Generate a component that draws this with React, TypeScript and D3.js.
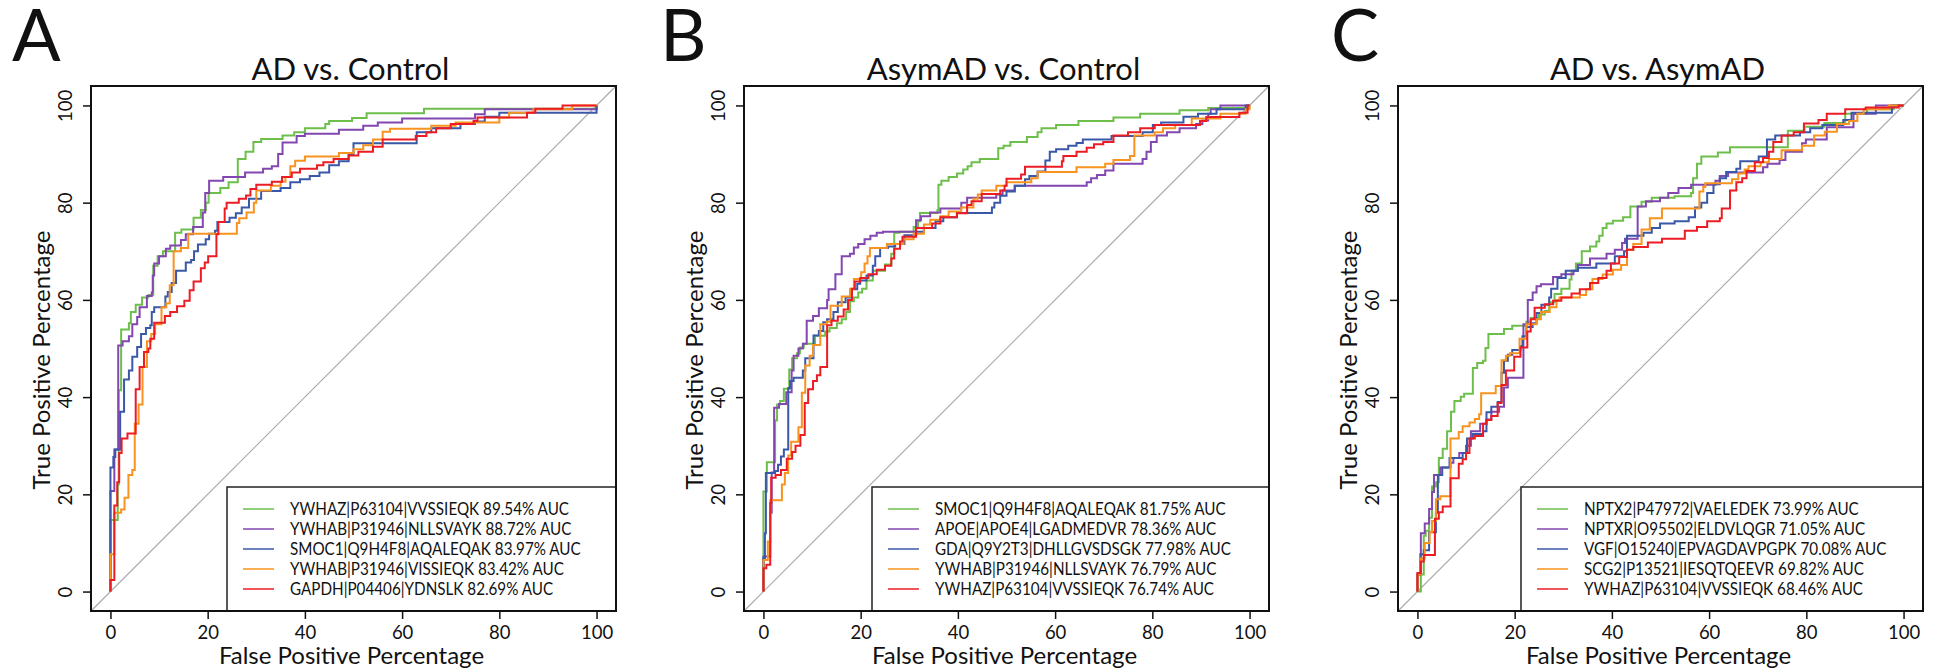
import React, { useEffect, useRef } from "react";
import * as d3 from "d3";

type Pt = [number, number];

const panelLetters = ["A", "B", "C"];
const panelTitles = ["AD vs. Control", "AsymAD vs. Control", "AD vs. AsymAD"];
const seriesColors = ["#6dbf4b", "#8247b0", "#3a58a8", "#f7931e", "#ec1c24"];
const axisTicks = [0, 20, 40, 60, 80, 100];

const legendA = [
  "YWHAZ|P63104|VVSSIEQK 89.54% AUC",
  "YWHAB|P31946|NLLSVAYK 88.72% AUC",
  "SMOC1|Q9H4F8|AQALEQAK 83.97% AUC",
  "YWHAB|P31946|VISSIEQK 83.42% AUC",
  "GAPDH|P04406|YDNSLK 82.69% AUC",
];
const legendB = [
  "SMOC1|Q9H4F8|AQALEQAK 81.75% AUC",
  "APOE|APOE4|LGADMEDVR 78.36% AUC",
  "GDA|Q9Y2T3|DHLLGVSDSGK 77.98% AUC",
  "YWHAB|P31946|NLLSVAYK 76.79% AUC",
  "YWHAZ|P63104|VVSSIEQK 76.74% AUC",
];
const legendC = [
  "NPTX2|P47972|VAELEDEK 73.99% AUC",
  "NPTXR|O95502|ELDVLQGR 71.05% AUC",
  "VGF|O15240|EPVAGDAVPGPK 70.08% AUC",
  "SCG2|P13521|IESQTQEEVR 69.82% AUC",
  "YWHAZ|P63104|VVSSIEQK 68.46% AUC",
];

// ROC steps: [false positive %, true positive % reached at that FPR]
const rocA1: Pt[] = [[0,0],[0,14.7],[1.5,22],[1.7,41.4],[2.2,53.9],[3.8,55.2],[4.2,57.5],[5.2,59],[6.5,60.5],[7.8,61],[8.8,67],[9.7,69],[10.8,70],[13.3,73.8],[14.6,74.5],[17.1,76.9],[18.6,78.5],[19.6,80],[20.2,82],[22.6,83],[24.3,84.2],[26.2,89],[27.8,90.5],[29.4,92.5],[31,93.1],[35.4,93.8],[37.8,94.5],[40,95.3],[44.2,96.2],[45,96.8],[49.7,97.4],[52.7,98.4],[64.5,99.3],[100,100]];
const rocA2: Pt[] = [[0,0],[0,20.7],[0.8,29.2],[1.6,50.6],[2.5,51.5],[3.8,52.5],[4.5,55],[5.5,56.5],[6,58.5],[7.5,60.8],[8.5,61.5],[8.7,65],[9,67.5],[10,69],[11.4,70.5],[12.3,71.2],[14.5,72.3],[15.5,73.5],[17,75],[19,78],[19.5,82],[20.3,84.5],[23.2,85.3],[27.7,86.2],[31.4,87],[33.2,87.5],[34.5,90],[35.4,92.4],[38.3,93.7],[40,94.2],[47,95],[52,95.8],[55,96.5],[60,97.3],[75,98.2],[77,99.2],[100,100]];
const rocA3: Pt[] = [[0,0],[0,25.5],[0.6,27.7],[1,29.2],[2,37],[2.8,43.6],[3.8,45.5],[4.5,48.3],[5.5,50.3],[6.3,53],[7.3,54.2],[8.2,54.8],[8.5,57.5],[9,58.5],[11.3,60.7],[11.8,61.6],[12.6,63.5],[13.5,66],[15.5,67.7],[16.6,68.2],[17.2,70],[18,71.4],[19.6,72.5],[20.3,73.6],[21.5,74.2],[22,76],[24.5,76.9],[25.8,77.8],[27,79],[28.5,80.8],[31,82.4],[35,83],[37,84.2],[39,84.8],[41,85.5],[43,86.2],[45,87.7],[47,88.5],[49,90],[50,92.2],[63,94.5],[66,95.3],[72,96.2],[75,96.7],[77,97.7],[80,98.5],[100,100]];
const rocA4: Pt[] = [[0,0],[0,7.7],[0.8,16.2],[2.2,16.9],[2.9,19.3],[3.7,24],[4.5,25],[5,34.5],[5.8,38.5],[6.6,46.2],[7.5,51.5],[8.4,53],[9.2,55],[10.5,58.5],[11.5,59.3],[12.2,63],[13,70],[14.5,70.7],[16,73.6],[26,75.8],[26.5,76.8],[28,78],[29.5,80],[30,82.5],[33,83.5],[35,84.3],[36,85.3],[37,87.5],[38,88.6],[40,89.5],[47,90.2],[50,91],[52,91.8],[54,93],[56,94.6],[57.5,95.2],[66,95.8],[71,96.5],[80,97.5],[82,98.5],[87,99.2],[95,100],[100,100]];
const rocA5: Pt[] = [[0,0],[0,2.4],[0.8,17.7],[1.4,22.5],[1.8,28.5],[2.3,31.5],[3.5,32.5],[5.2,41.6],[6,46.2],[6.9,49.3],[7.8,50],[8.2,52],[9,55.3],[11.2,56.7],[12.3,57.5],[13.7,58.7],[15.2,59.8],[16.3,62],[17.1,63.8],[18.6,66.5],[19.4,67.7],[20.1,69],[21.8,73.5],[22.2,76],[23.5,78.8],[23.9,80],[26.4,80.8],[27.9,81.5],[28.8,82.8],[30,83.7],[33.2,84.3],[35.3,85.3],[37.3,86.2],[39,87],[42.5,87.7],[43.8,88.3],[45.9,89],[49,89.7],[51,90.5],[54,91.5],[56,93],[62.8,93.7],[65,94.5],[67,95.3],[70,96.2],[74.7,96.8],[75.5,97.5],[85.7,98.5],[87.4,99.3],[93,100],[100,100]];

const rocB1: Pt[] = [[0,0],[0,20.6],[0.7,26.6],[2.4,35.2],[2.8,38.5],[3.4,39.2],[4.2,41.7],[5.3,45.7],[5.9,48],[6.9,49],[7.5,50.2],[8.3,51],[10.6,52.6],[12.7,53.5],[13.6,54.2],[15.1,55.2],[16.1,56],[17,57.5],[17.8,59.7],[18.6,60.5],[19.5,61.5],[20.3,62.3],[21.2,64],[22.5,66],[25,67.3],[26.3,69.5],[26.9,73.8],[28,74],[30.9,75],[31.8,76.2],[32.2,77.9],[35.8,78.5],[36,83.7],[36.6,84.5],[38.1,85.3],[39.8,86],[41.1,86.8],[42,87.5],[42.8,88.3],[44.5,89],[48.3,91.2],[49.4,91.7],[50.8,92.5],[54.2,93.5],[56.4,94.5],[57.2,95.3],[60.2,96],[64.8,96.8],[72,97.5],[77.5,98.3],[85.6,99],[91.5,99.5],[100,100]];
const rocB2: Pt[] = [[0,0],[0,7.2],[1.4,16.2],[1.7,24.5],[2.2,37.8],[3.2,38.6],[4.7,41],[5.8,45.5],[6.2,48.5],[7.2,50],[8.1,51],[8.9,55.7],[10.2,56.7],[11.4,58.3],[13.1,60],[13.4,62.2],[14.8,65.3],[16.1,69],[17.8,69.5],[18.6,70.8],[19.5,71.5],[20.8,72.5],[22,73.2],[23.3,73.8],[24.6,74],[31.4,76.4],[32.4,77.2],[34.3,78],[36.4,78.8],[40.7,80],[41.9,81],[47.9,81.7],[49.2,82.5],[51.7,83.5],[66.5,84.2],[67.4,85],[68.6,85.7],[70.3,86.6],[72,88],[78,89],[78.8,90.5],[79.7,92.5],[80.9,93.8],[83,94.5],[85.6,95.3],[89,96.2],[90.3,96.9],[91.5,98.3],[92,99.2],[94,100],[100,100]];
const rocB3: Pt[] = [[0,0],[0,6.9],[0.3,12],[0.5,24.4],[2.4,24.8],[3,26.1],[3.6,27.8],[4.2,29.2],[5.1,41.9],[5.5,43.3],[6.2,44],[8.1,45.5],[8.6,48],[10.3,52.7],[11.4,53.6],[12.3,55.4],[13.1,56],[14.4,57.5],[15.3,59.5],[16.9,60.5],[18.2,62.2],[19.3,63.3],[19.9,64],[21.2,65],[22.5,67],[23,69],[24,70.7],[25.6,71],[27.1,71.5],[29,73.3],[31.4,74],[33,74.8],[35.4,76.2],[37,77],[39.8,77.9],[47,79],[47.5,80],[48.7,81.4],[50,82.3],[51.7,83.5],[53.8,84.8],[54.7,85.5],[56.4,86.4],[58,88.7],[58.9,90.5],[60.2,91],[62.7,91.7],[64.4,92.3],[65.7,93],[71.6,93.7],[78,94.5],[80.1,96],[81.8,96.5],[86.4,97.7],[89.4,98.3],[93.2,99.2],[99.2,100],[100,100]];
const rocB4: Pt[] = [[0,0],[0,6.5],[0.9,10.3],[1.4,18.8],[3.8,22],[4.4,24.4],[5.1,28],[5.7,30.8],[7.2,33.8],[7.9,40.9],[8.6,46.5],[9.5,48.5],[10.2,50.7],[11.7,55],[13,55.5],[13.8,58.8],[16.1,60.7],[17.8,62.3],[18.6,64.3],[20.1,65.7],[20.8,67.5],[21.4,69],[21.9,70.7],[25.4,71.5],[28.8,72.5],[30.9,73.6],[33,75.5],[34.3,76.5],[36.4,77.2],[38.1,78.2],[40.7,79],[43.2,80.8],[44.1,81.7],[44.9,82.5],[47.9,83.5],[50,84.2],[55.1,85],[56.4,86.3],[64.4,87.3],[70.3,88],[72,88.8],[75.4,89.6],[76.3,93.8],[80.5,94.5],[82.2,95.3],[84.7,96],[88.1,97.3],[94,98.3],[99.2,99.2],[100,100]];
const rocB5: Pt[] = [[0,0],[0,4.8],[0.6,5.5],[1.4,18.2],[1.6,23.4],[2.5,24],[3.6,25],[4.8,27.3],[5.9,28.7],[6.6,30],[7.6,32.2],[8.5,38.8],[9.2,41.6],[10.2,43.3],[11,44.5],[11.7,46.2],[13.1,54.8],[14,55.7],[15.3,56.6],[16.5,58],[17.4,60],[18.2,62.3],[18.8,63.8],[19.9,64.5],[21.6,65.3],[23.3,66.2],[25,67],[26.3,68.5],[26.9,70.5],[28.1,72],[28.6,73],[31.4,74.8],[34.7,75.7],[36.4,77],[39.8,77.8],[41.9,79.5],[42.8,80.3],[44.9,81.8],[48.7,82.5],[49.6,83.5],[50,84.9],[53,85.8],[53.8,87.4],[61.4,88.5],[61.7,89.6],[64.4,90.5],[66.5,91.3],[68,92],[69.9,92.5],[72,93.8],[75,94.5],[77.5,95.3],[80.5,96],[89.8,96.8],[91.1,97.6],[97.9,98.5],[99.6,100],[100,100]];

const rocC1: Pt[] = [[0,0],[0.7,3.5],[1.3,11.5],[1.7,12.5],[2.4,15.2],[3,21.6],[3.8,22.5],[4.4,27.5],[5.2,29.4],[6.1,33],[6.9,37],[7.6,39.2],[8.9,40.1],[9.6,40.7],[11.4,46],[12.3,47],[13.5,47.5],[14,50.1],[14.6,53],[17.8,54],[19.5,54.7],[22.4,55.5],[23.3,56.3],[25,57],[26.2,57.7],[27.1,59.5],[28.2,61.2],[29.6,62.3],[31.3,64.2],[31.7,66],[32.6,67.5],[33.8,70],[35.5,71],[36.8,72],[37.4,73.2],[38.1,74.8],[38.9,75.7],[40.2,76.3],[42.3,77],[43.8,79.2],[46.1,80.2],[48.2,81],[52.9,81.3],[56.3,82],[56.7,85],[57.5,88],[58.4,89.5],[61.8,90.3],[64.3,91.4],[76.2,94.8],[79.6,95.6],[83.7,96.4],[88,98.3],[92.5,99.2],[98,100],[100,100]];
const rocC2: Pt[] = [[0,0],[0,3.5],[0.7,12],[1.5,14],[2.4,17],[3,20.5],[3.4,24],[4.7,25.5],[6.8,26.5],[7.4,27.5],[8.6,28.5],[10,30],[11,33],[12.9,34.5],[14.2,35.4],[15.2,37],[16.8,38],[17.8,42],[18.6,44],[21.8,55],[22.7,60],[23.7,61.5],[24.5,62.8],[25.4,63.2],[27.9,64.7],[29.6,65.3],[32.1,66],[33,67.2],[35.5,68.5],[38.9,69.5],[40.6,70.3],[42.1,71.7],[42.7,72.6],[45.3,79.2],[47,80.3],[49.9,81],[51.6,82],[53.7,83],[56.3,83.7],[61.3,84.5],[62.2,85.5],[63.9,86.2],[71.1,87.3],[72,88],[74.5,88.8],[75.7,90.5],[79.1,92.2],[79.9,93],[84.2,95.5],[89.7,98.3],[94.3,100],[100,100]];
const rocC3: Pt[] = [[0,0],[0,3.5],[0.6,7.7],[1.3,8.5],[2.4,12.2],[3.8,16.2],[4.2,24],[5.1,25.5],[6.6,27.5],[9.3,28.5],[10.2,31.5],[11.4,32.4],[13.5,33],[14.2,36.9],[15.2,38],[16.5,39],[17.3,45],[17.8,47.5],[18.6,48.7],[19.5,49.7],[21.2,50.5],[21.6,52.5],[22.4,54.4],[23.7,55.2],[24.5,57.3],[25.5,59],[27.1,60.5],[27.5,62.3],[28.8,64.5],[30.5,66],[33,66.6],[36.8,67.5],[40.6,69],[42.5,70],[43.1,73.2],[46.5,73.8],[48.2,74.8],[49.9,75.7],[52.9,76.2],[55.8,77],[57.1,79],[58.4,80],[59.6,82],[60.9,83.8],[62.2,85],[63.5,86.3],[65.6,87],[66.4,88.5],[70.2,89.5],[71.9,93],[73.6,93.8],[78.7,94.5],[80.8,95.3],[83.3,96],[87.6,97],[89.3,98.5],[97.6,100],[100,100]];
const rocC4: Pt[] = [[0,0],[0,3.5],[0.7,6.8],[1.5,10],[2.5,12.2],[3,14.5],[3.8,19],[4.7,19.6],[6.8,31.5],[8.5,32.8],[9.3,34],[10.7,34.8],[11.8,35.5],[12.7,36.5],[13.1,40.8],[16.1,42.3],[17.3,47.6],[18.2,48.5],[19,49],[21,52],[22.4,55],[24.5,56],[25.4,57.5],[27.2,58.5],[28.6,60],[29.2,60.5],[33.4,61],[34.7,62.2],[36,64.3],[38.1,65.2],[40.2,66.2],[41.9,67.2],[43.1,70.3],[44.4,71.5],[46.1,74.5],[47.8,76.8],[50.3,78.8],[58,82.3],[58.8,83.2],[59.2,84],[64.7,84.8],[66,86],[67.3,86.8],[68.1,87.5],[70.6,88.3],[72.3,89],[74.9,90.8],[79.1,91.7],[81.6,93.8],[83.8,94.6],[86.3,96.2],[88.8,96.8],[90.5,98.3],[91.8,99.2],[96.9,100],[100,100]];
const rocC5: Pt[] = [[0,0],[0,3.8],[0.7,6.2],[1.3,7.5],[3.6,15],[4.4,16.3],[5.2,17.5],[6.8,23.3],[8.5,26.3],[9.3,27.2],[10,28.5],[10.7,31.5],[11.8,32],[13.5,34.5],[14.2,35.3],[15.2,36.1],[16.5,38.8],[17.3,42.5],[18.2,45.5],[19.9,48.3],[21.2,50.2],[22.6,53.5],[23.3,56],[24.1,58.4],[26.2,59.1],[27.9,59.8],[29.6,60.5],[31.7,61.3],[33.4,62.2],[35.5,63.5],[37.2,64.5],[38.9,66],[39.8,67.5],[41.5,68.8],[43.1,70.3],[44.4,70.9],[47.4,71.8],[50.3,72.6],[55,74.2],[57.5,75],[59.6,76.2],[62.2,76.8],[62.6,78.8],[64.3,82.5],[65.6,84.2],[66.8,85],[67.7,86.5],[69.4,88.3],[71.1,89.2],[72.3,90.5],[73.2,92.5],[74.9,93.8],[77.4,94.5],[79.5,96.3],[82.5,97],[84.2,98.3],[88,99.2],[92.2,99.6],[99,100],[100,100]];

const W = 1935;
const H = 671;
const boxLefts = [91, 744, 1398];
const boxTop = 86;
const boxSize = 525;
const legendLefts = [227, 872, 1521];
const letterXs = [12, 660, 1331];
const legendFirstWidth = 279; // width of the first legend line in panel A
const FONT = "Lato, 'Open Sans', sans-serif";

const App = () => {
  const chart = useRef<SVGSVGElement>(null);

  useEffect(() => {
    const svg = d3.select(chart.current);
    svg.selectAll("*").remove();

    const panels = [
      { legend: legendA, curves: [rocA1, rocA2, rocA3, rocA4, rocA5] },
      { legend: legendB, curves: [rocB1, rocB2, rocB3, rocB4, rocB5] },
      { legend: legendC, curves: [rocC1, rocC2, rocC3, rocC4, rocC5] },
    ];

    const legendTexts: SVGTextElement[] = [];

    panels.forEach((p, i) => {
      const left = boxLefts[i];
      const bottom = boxTop + boxSize;
      const x = d3.scaleLinear().domain([-4, 104]).range([left, left + boxSize]);
      const y = d3.scaleLinear().domain([-4, 104]).range([bottom, boxTop]);
      const g = svg.append("g").attr("font-family", FONT).attr("fill", "#111");

      g.append("text")
        .attr("x", letterXs[i])
        .attr("y", 61)
        .attr("font-size", 72)
        .text(panelLetters[i]);

      g.append("text")
        .attr("x", left + boxSize / 2 - 3)
        .attr("y", 80)
        .attr("text-anchor", "middle")
        .attr("font-size", 31)
        .text(panelTitles[i]);

      // chance line
      g.append("line")
        .attr("x1", x(-4))
        .attr("y1", y(-4))
        .attr("x2", x(104))
        .attr("y2", y(104))
        .attr("stroke", "#aaaaaa")
        .attr("stroke-width", 1.2);

      const line = d3
        .line<Pt>()
        .x((d) => x(d[0]))
        .y((d) => y(d[1]))
        .curve(d3.curveStepAfter);

      p.curves.forEach((c, k) => {
        g.append("path")
          .datum(c)
          .attr("d", line)
          .attr("fill", "none")
          .attr("stroke", seriesColors[k])
          .attr("stroke-width", 2);
      });

      // legend
      const lx = legendLefts[i];
      const ly = 487;
      g.append("rect")
        .attr("x", lx)
        .attr("y", ly)
        .attr("width", left + boxSize - lx)
        .attr("height", bottom - ly)
        .attr("fill", "white")
        .attr("stroke", "#222")
        .attr("stroke-width", 1.5);
      p.legend.forEach((label, k) => {
        const ry = ly + 22 + k * 20;
        g.append("line")
          .attr("x1", lx + 16)
          .attr("x2", lx + 47)
          .attr("y1", ry)
          .attr("y2", ry)
          .attr("stroke", seriesColors[k])
          .attr("stroke-width", 1.5);
        const t = g
          .append("text")
          .attr("x", lx + 63)
          .attr("y", ry + 6)
          .attr("font-size", 17)
          .text(label);
        legendTexts.push(t.node() as SVGTextElement);
      });

      g.append("rect")
        .attr("x", left)
        .attr("y", boxTop)
        .attr("width", boxSize)
        .attr("height", boxSize)
        .attr("fill", "none")
        .attr("stroke", "#111")
        .attr("stroke-width", 2);

      const xAxis = g
        .append("g")
        .attr("transform", `translate(0,${bottom})`)
        .call(d3.axisBottom(x).tickValues(axisTicks).tickSize(8));
      xAxis.select(".domain").remove();
      xAxis.attr("font-family", FONT).attr("font-size", 18.5).attr("color", "#111");
      xAxis.selectAll("line").attr("stroke-width", 1.5);
      xAxis.selectAll("text").attr("y", 28).attr("dy", 0);

      const yAxis = g
        .append("g")
        .attr("transform", `translate(${left},0)`)
        .call(d3.axisLeft(y).tickValues(axisTicks).tickSize(8));
      yAxis.select(".domain").remove();
      yAxis.attr("font-family", FONT).attr("font-size", 18.5).attr("color", "#111");
      yAxis.selectAll("line").attr("stroke-width", 1.5);
      yAxis
        .selectAll("text")
        .attr("transform", "rotate(-90)")
        .attr("x", 0)
        .attr("y", -19)
        .attr("dy", 0)
        .attr("text-anchor", "middle");

      g.append("text")
        .attr("x", left + boxSize / 2 - 2)
        .attr("y", 664)
        .attr("text-anchor", "middle")
        .attr("font-size", 24)
        .text("False Positive Percentage");

      g.append("text")
        .attr("transform", `translate(${left - 41},360) rotate(-90)`)
        .attr("text-anchor", "middle")
        .attr("font-size", 24)
        .text("True Positive Percentage");
    });

    // the reference font is narrower than Lato: squeeze legend lines to match
    if (legendTexts.length) {
      const natural = legendTexts[0].getComputedTextLength();
      const k = natural > 0 ? legendFirstWidth / natural : 1;
      legendTexts.forEach((t) => {
        const w = t.getComputedTextLength();
        d3.select(t).attr("textLength", w * k).attr("lengthAdjust", "spacingAndGlyphs");
      });
    }
  }, []);

  return (
    <svg
      ref={chart}
      width={W}
      height={H}
      style={{ position: "absolute", left: 0, top: 0, background: "white" }}
    ></svg>
  );
};

export default App;
